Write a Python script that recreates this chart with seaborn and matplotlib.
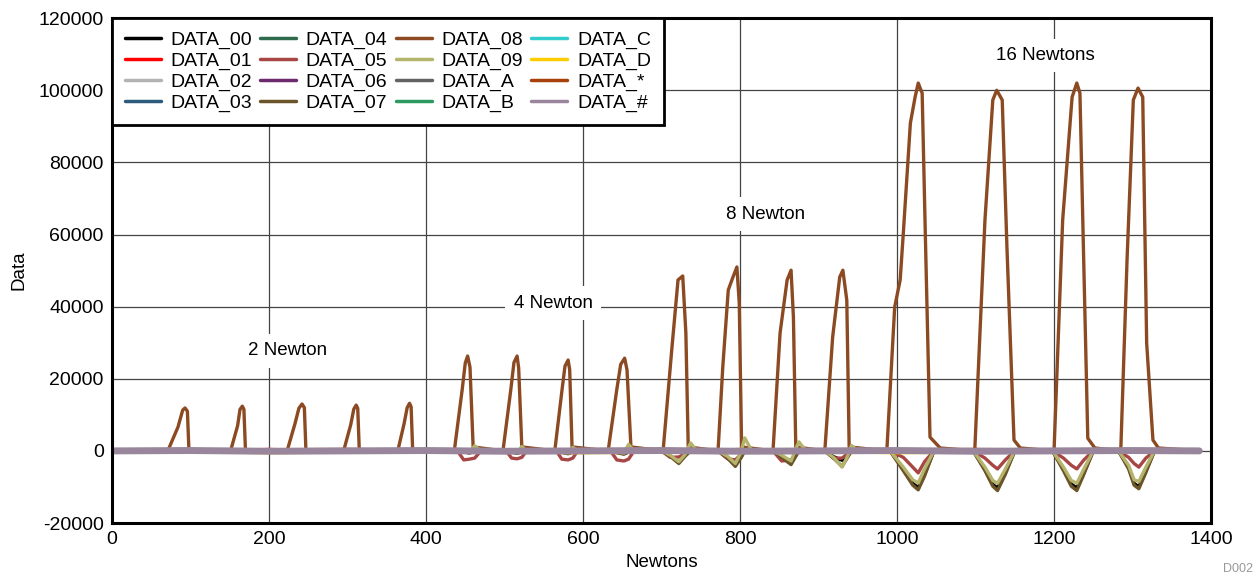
import matplotlib
matplotlib.use('Agg')
import matplotlib.pyplot as plt
import pandas as pd
import seaborn as sns

# series names (legend order) and colours
names = ['DATA_00', 'DATA_01', 'DATA_02', 'DATA_03', 'DATA_04', 'DATA_05', 'DATA_06', 'DATA_07',
         'DATA_08', 'DATA_09', 'DATA_A', 'DATA_B', 'DATA_C', 'DATA_D', 'DATA_*', 'DATA_#']
colors = ['#000000', '#ff0000', '#b3b3b3', '#2e5b7c', '#2d6b4c', '#a84646', '#6e2a6e', '#6b5428',
          '#8b4a22', '#b4b46c', '#636363', '#2e9a62', '#33cccc', '#ffcc00', '#a8400c', '#9a869c']

# DATA_08: the big force pulses (2N, 4N, 8N, 16N)
d08_x = [0, 71, 84, 90, 93, 96, 98,
         151, 160, 163, 166, 168, 170,
         223, 233, 238, 242, 245, 247,
         295, 304, 308, 311, 313, 315,
         364, 372, 376, 379, 381, 383,
         436, 446, 450, 453, 456, 460,
         498, 508, 512, 516, 518, 522,
         564, 573, 577, 581, 583, 586,
         632, 643, 648, 653, 656, 661,
         702, 713, 721, 727, 731, 734,
         772, 778, 785, 791, 796, 799, 802,
         842, 851, 860, 865, 868, 871,
         908, 918, 927, 931, 936, 939,
         987, 997, 1004, 1008, 1017, 1023, 1027, 1032, 1036, 1042, 1055,
         1099, 1112, 1122, 1127, 1134, 1140, 1149, 1157,
         1200, 1211, 1223, 1229, 1233, 1237, 1243, 1252,
         1285, 1293, 1301, 1307, 1313, 1318, 1326, 1333, 1385]
d08_y = [0, 0, 6600, 11300, 11900, 11000, 0,
         0, 7000, 11500, 12400, 11500, 0,
         0, 7500, 11800, 13000, 12000, 0,
         0, 7200, 11600, 12700, 11800, 0,
         0, 7500, 12000, 13200, 12200, 0,
         0, 16900, 24400, 26300, 23200, 1100,
         0, 17000, 24500, 26300, 23000, 1100,
         0, 16500, 23500, 25200, 22500, 1100,
         0, 17000, 24000, 25700, 22500, 1100,
         0, 28000, 47400, 48500, 32700, 1100,
         0, 23200, 44600, 48200, 51000, 41000, 1100,
         0, 32700, 47400, 50100, 37100, 1100,
         0, 31600, 48200, 50100, 41800, 1100,
         0, 39900, 47400, 60400, 90900, 98100, 102000, 99200, 60400, 3800, 800,
         0, 64000, 97300, 100000, 97300, 56500, 3000, 800,
         0, 64000, 98100, 102000, 99200, 60400, 3500, 800,
         0, 52900, 97300, 100600, 98100, 29900, 3000, 800, 0]

# negative dips of the other channels during the pulses
dip_x = [0,
         440, 448, 455, 462, 470,
         502, 509, 516, 522, 528,
         566, 573, 581, 587, 593,
         635, 643, 652, 658, 665,
         700, 711, 722, 730, 737, 745,
         772, 784, 794, 801, 806, 815,
         842, 853, 865, 871, 875, 884,
         908, 919, 930, 937, 942, 950,
         991, 1008, 1020, 1027, 1035, 1047,
         1097, 1112, 1122, 1128, 1138, 1150,
         1198, 1212, 1222, 1229, 1238, 1250,
         1282, 1295, 1302, 1308, 1317, 1328,
         1385]
d07_y = [0,
         0, -300, -600, -200, 0,
         0, -300, -700, -200, 0,
         0, -400, -800, -300, 0,
         0, -500, -900, -300, 0,
         0, -1500, -3500, -1500, 0, 0,
         0, -2000, -4300, -2000, 0, 0,
         0, -1800, -3800, -1500, 0, 0,
         0, -2000, -4300, -1800, 0, 0,
         0, -5500, -9500, -10800, -7000, 0,
         0, -5500, -9800, -11000, -6500, 0,
         0, -5500, -9800, -11000, -6500, 0,
         0, -5000, -9500, -10500, -6000, 0,
         0]
d00_y = [0,
         0, -200, -500, -200, 0,
         0, -200, -600, -200, 0,
         0, -300, -700, -300, 0,
         0, -400, -800, -300, 0,
         0, -1400, -3200, -1300, 0, 0,
         0, -1800, -4000, -1800, 0, 0,
         0, -1600, -3400, -1300, 0, 0,
         0, -1600, -2600, -1500, 0, 0,
         0, -5000, -9000, -10200, -6500, 0,
         0, -5000, -9300, -10300, -6000, 0,
         0, -5000, -9200, -10300, -6000, 0,
         0, -4500, -9000, -10000, -5500, 0,
         0]
d09_y = [0,
         0, -200, -400, 1400, 0,
         0, -200, -400, 1200, 0,
         0, -200, -500, 1000, 0,
         0, -300, -600, 1800, 0,
         0, -1200, -3000, -1000, 2200, 0,
         0, -1500, -3500, -500, 3600, 0,
         0, -1200, -2800, 500, 2500, 0,
         0, -1800, -4500, -1500, 1500, 0,
         0, -4500, -8000, -8900, -5000, 0,
         0, -4500, -8200, -9000, -5000, 0,
         0, -4500, -8200, -9000, -5000, 0,
         0, -4000, -8000, -8500, -4500, 0,
         0]
d05_y = [0,
         0, -2500, -2300, -2000, 0,
         0, -2000, -2200, -1800, 0,
         0, -2300, -2500, -2000, 0,
         0, -2500, -2800, -2300, 0,
         0, -1800, -1700, -800, 0, 0,
         0, -2200, -2500, -1000, 0, 0,
         0, -2800, -2500, -1000, 0, 0,
         0, -2000, -2000, -800, 0, 0,
         0, -1800, -4500, -6100, -3000, 0,
         0, -2000, -4000, -5000, -2500, 0,
         0, -2000, -4000, -5000, -2500, 0,
         0, -1800, -3500, -4500, -2000, 0,
         0]

# flat channels, small noise around zero
base_x = [0, 100, 200, 300, 400, 500, 600, 700, 800, 900, 1000, 1100, 1200, 1300, 1385]
d01_y = [200, -300, 400, -200, 300, -400, 200, -300, 400, -200, 300, -300, 200, -400, 200]
d02_y = [-200, 300, -300, 200, -400, 300, -200, 400, -300, 200, -200, 300, -300, 200, -200]
d03_y = [100, -200, 200, -300, 100, -200, 300, -100, 200, -300, 100, -200, 300, -100, 100]
d04_y = [-100, 200, -200, 300, -100, 200, -300, 100, -200, 300, -100, 200, -300, 100, -100]
d06_y = [300, -100, 100, -200, 200, -100, 100, -300, 100, -100, 200, -200, 100, -200, 300]
dA_y = [-300, 100, -100, 200, -200, 100, -100, 300, -100, 100, -200, 200, -100, 200, -300]
dB_y = [100, 300, -200, 100, -300, 200, -100, 200, -200, 100, -300, 100, -200, 300, 100]
dC_y = [-100, -300, 200, -100, 300, -200, 100, -200, 200, -100, 300, -100, 200, -300, -100]
dD_y = [-400, -200, -500, -300, -400, -200, -500, -300, -400, -200, -500, -300, -400, -200, -400]
dS_y = [200, 100, 300, 400, 200, 100, 300, 400, 200, 100, 300, 400, 200, 100, 200]
dH_y = [0, 100, -100, 0, 100, -100, 0, 100, -100, 0, 100, -100, 0, 100, 0]

series = {
    'DATA_00': (dip_x, d00_y), 'DATA_01': (base_x, d01_y), 'DATA_02': (base_x, d02_y),
    'DATA_03': (base_x, d03_y), 'DATA_04': (base_x, d04_y), 'DATA_05': (dip_x, d05_y),
    'DATA_06': (base_x, d06_y), 'DATA_07': (dip_x, d07_y), 'DATA_08': (d08_x, d08_y),
    'DATA_09': (dip_x, d09_y), 'DATA_A': (base_x, dA_y), 'DATA_B': (base_x, dB_y),
    'DATA_C': (base_x, dC_y), 'DATA_D': (base_x, dD_y), 'DATA_*': (base_x, dS_y),
    'DATA_#': (base_x, dH_y),
}

rows = []
for n in names:
    xs, ys = series[n]
    for x, y in zip(xs, ys):
        rows.append((n, x, y))
df = pd.DataFrame(rows, columns=['series', 'Newtons', 'Data'])

sns.set_style('white')
plt.rcParams['font.family'] = ['Liberation Sans', 'DejaVu Sans']
plt.rcParams['axes.unicode_minus'] = False
plt.rcParams['text.color'] = 'black'
plt.rcParams['axes.labelcolor'] = 'black'
plt.rcParams['xtick.color'] = 'black'
plt.rcParams['ytick.color'] = 'black'

fig = plt.figure(figsize=(12.56, 5.81), dpi=100)
ax = fig.add_axes([0.0892, 0.0998, 0.875, 0.869])

ax.grid(True, color='#444444', lw=0.9)
ax.set_axisbelow(True)

sns.lineplot(data=df, x='Newtons', y='Data', hue='series', hue_order=names,
             palette=dict(zip(names, colors)), estimator=None, sort=False,
             lw=2.4, ax=ax)

ax.set_xlim(0, 1400)
ax.set_ylim(-20000, 120000)
ax.set_xticks(range(0, 1401, 200))
ax.set_yticks(range(-20000, 120001, 20000))
ax.tick_params(length=0, labelsize=14, pad=6)
ax.set_xlabel('Newtons', fontsize=13.5, labelpad=4)
ax.set_ylabel('Data', fontsize=13.5, labelpad=8)
for s in ax.spines.values():
    s.set_visible(True)
    s.set_color('black')
    s.set_linewidth(2.2)
    s.set_zorder(4)

box = dict(facecolor='white', edgecolor='none', pad=6)
ax.text(224, 27700, '2 Newton', fontsize=13.5, ha='center', va='center', bbox=box, zorder=3)
ax.text(562, 41000, '4 Newton', fontsize=13.5, ha='center', va='center', bbox=box, zorder=3)
ax.text(832, 65650, '8 Newton', fontsize=13.5, ha='center', va='center', bbox=box, zorder=3)
ax.text(1189, 109700, '16 Newtons', fontsize=13.5, ha='center', va='center', bbox=box, zorder=3)

leg = ax.legend(loc='upper left', ncol=4, fontsize=14, frameon=True, fancybox=False,
                borderaxespad=0, handlelength=1.85, columnspacing=0.42, labelspacing=0.17,
                handletextpad=0.5, borderpad=0.65)
leg.get_frame().set_edgecolor('black')
leg.get_frame().set_linewidth(2)
leg.get_frame().set_alpha(1)
leg.set_zorder(5)
for h in leg.get_lines():
    h.set_linewidth(2.5)

# thick baseline channel (DATA_#) on top of the others (data line only, not legend proxies)
for ln in ax.lines:
    if matplotlib.colors.to_hex(ln.get_color()) == colors[-1] and len(ln.get_xdata()) > 2:
        ln.set_linewidth(5)
        ln.set_zorder(2.6)

fig.text(0.998, 0.01, 'D002', fontsize=9, color='#999999', ha='right', va='bottom')

fig.savefig('out.png', dpi=100)
